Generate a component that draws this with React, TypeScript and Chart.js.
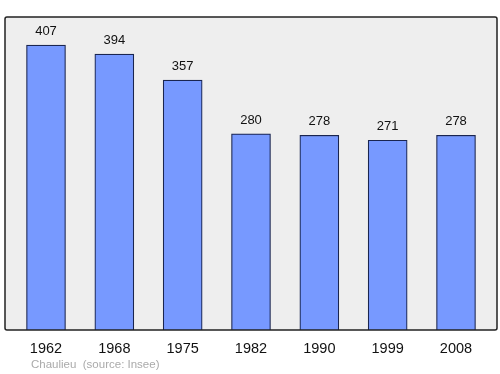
import React, { useEffect, useRef } from "react";
import { Chart, registerables } from "chart.js";

Chart.register(...registerables);

const years = ["1962", "1968", "1975", "1982", "1990", "1999", "2008"];
const population = [407, 394, 357, 280, 278, 271, 278];
const sourceLabel = "Chaulieu";
const sourceNote = "(source: Insee)";

export default function App() {
  const ref = useRef<HTMLCanvasElement>(null);

  useEffect(() => {
    document.body.style.margin = "0";
    const frame = {
      id: "frame",
      beforeDraw(chart: any) {
        const { ctx, chartArea: a } = chart;
        ctx.save();
        ctx.beginPath();
        (ctx as any).roundRect(a.left, a.top, a.right - a.left, a.bottom - a.top, 2);
        ctx.fillStyle = "#eeeeee";
        ctx.fill();
        ctx.restore();
      },
      afterDraw(chart: any) {
        const { ctx, chartArea: a } = chart;
        ctx.save();
        ctx.beginPath();
        (ctx as any).roundRect(a.left, a.top, a.right - a.left, a.bottom - a.top, 2);
        ctx.lineWidth = 1.5;
        ctx.strokeStyle = "#222222";
        ctx.stroke();
        ctx.restore();
      },
      afterDatasetsDraw(chart: any) {
        const { ctx } = chart;
        const meta = chart.getDatasetMeta(0);
        ctx.save();
        ctx.font = "13px 'Liberation Sans', Arial, sans-serif";
        ctx.fillStyle = "#111111";
        ctx.textAlign = "center";
        ctx.textBaseline = "bottom";
        meta.data.forEach((el: any, i: number) => {
          ctx.fillText(String(population[i]), el.x, el.y - 7);
        });
        ctx.restore();
      },
    };

    const chart = new Chart(ref.current!, {
      type: "bar",
      data: {
        datasets: [
          {
            data: population.map((v, i) => ({ x: i, y: v })),
            backgroundColor: "#7799ff",
            borderColor: "#1a2550",
            borderWidth: 1.2,
            barThickness: 39,
          },
        ],
      },
      options: {
        responsive: false,
        animation: false,
        layout: { padding: { left: 5, right: 3, top: 17, bottom: 0 } },
        plugins: { legend: { display: false }, tooltip: { enabled: false } },
        scales: {
          x: {
            type: "linear",
            offset: false,
            min: -0.6,
            max: 6.6,
            grid: { display: false },
            border: { display: false },
            afterFit(scale: any) {
              scale.height = 44;
            },
            afterBuildTicks(scale: any) {
              scale.ticks = years.map((_, i) => ({ value: i }));
            },
            ticks: {
              autoSkip: false,
              padding: 2,
              color: "#111111",
              font: { family: "'Liberation Sans', Arial, sans-serif", size: 14.5 },
              callback: (v: any) => years[v as number] ?? "",
            },
          },
          y: {
            display: false,
            min: 0,
            max: 447,
          },
        },
      },
      plugins: [frame],
    });
    return () => chart.destroy();
  }, []);

  return (
    <div style={{ position: "relative", width: 500, height: 374 }}>
      <canvas ref={ref} width={500} height={374} style={{ display: "block" }} />
      <div
        style={{
          position: "absolute",
          left: 31,
          top: 358,
          fontFamily: "'Liberation Sans', Arial, sans-serif",
          fontSize: 11.5,
          color: "#aaaaaa",
          whiteSpace: "pre",
        }}
      >
        {sourceLabel + "  " + sourceNote}
      </div>
    </div>
  );
}
